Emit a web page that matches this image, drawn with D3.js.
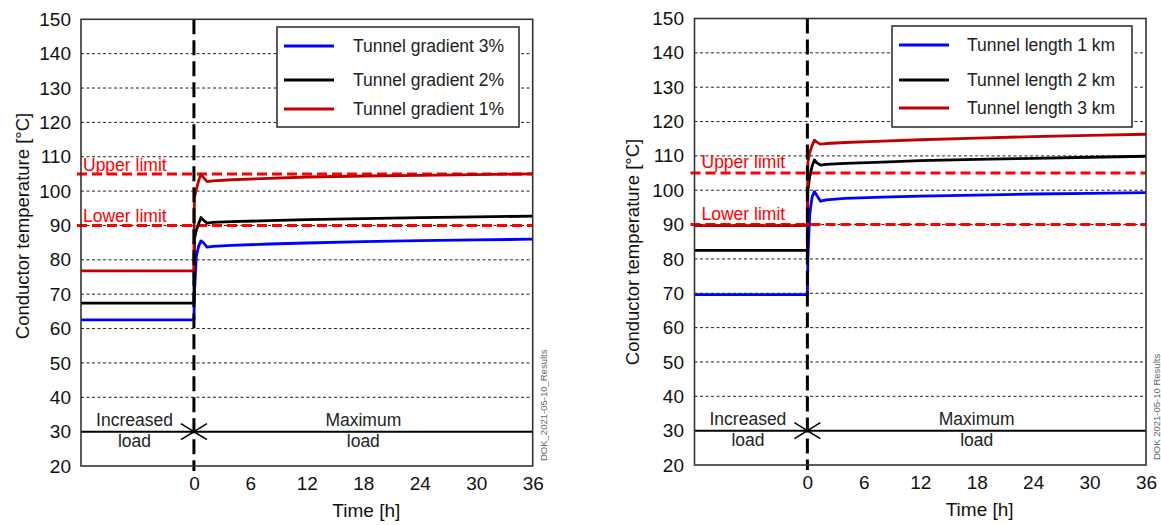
<!DOCTYPE html>
<html>
<head>
<meta charset="utf-8">
<script src="https://cdn.jsdelivr.net/npm/d3@7/dist/d3.min.js"></script>
<style>
  html, body { margin: 0; padding: 0; background: #fff; }
  svg { display: block; font-family: "Liberation Sans", Arial, sans-serif; }
</style>
</head>
<body>
<svg id="chart" width="1161" height="525"></svg>
<script>
// ---------- data ----------
const timeTicks = [0, 6, 12, 18, 24, 30, 36];
const tempTicks = [20, 30, 40, 50, 60, 70, 80, 90, 100, 110, 120, 130, 140, 150];
const gridTemps = [40, 50, 60, 70, 80, 90, 100, 110, 120, 130, 140];
const timeDomain = [-12, 36];
const tempDomain = [20, 150];
const upperLimit = 105;
const lowerLimit = 90;
const phaseLine = 30;

const times = [-12, 0, 0.05, 0.25, 0.5, 0.75, 1.0, 1.4, 2, 4, 8, 12, 18, 24, 30, 36];

// left chart: tunnel gradient
const gradientLabels = ["Tunnel gradient 3%", "Tunnel gradient 2%", "Tunnel gradient 1%"];
const gradient3 = [62.5, 62.5, 70, 81, 84, 85.5, 85, 83.7, 83.9, 84.2, 84.6, 84.9, 85.3, 85.6, 85.8, 86.0];
const gradient2 = [67.4, 67.4, 86, 88.5, 90.5, 92.3, 91.6, 90.7, 90.9, 91.1, 91.4, 91.7, 92.0, 92.3, 92.5, 92.7];
const gradient1 = [76.8, 76.8, 98, 100.4, 103, 104.9, 104, 102.8, 103.0, 103.3, 103.7, 104.1, 104.4, 104.6, 104.8, 105.0];

// right chart: tunnel length
const lengthLabels = ["Tunnel length 1 km", "Tunnel length 2 km", "Tunnel length 3 km"];
const length1 = [69.6, 69.6, 80, 93, 98, 99.6, 98.5, 96.8, 97.2, 97.6, 98.0, 98.3, 98.6, 98.9, 99.1, 99.3];
const length2 = [82.5, 82.5, 100, 104, 107, 108.8, 108, 107.3, 107.5, 107.8, 108.2, 108.6, 109.0, 109.3, 109.6, 109.9];
const length3 = [89.7, 89.7, 108, 111, 113, 114.6, 114, 113.4, 113.6, 113.9, 114.3, 114.7, 115.2, 115.6, 116.0, 116.3];

const seriesColors = ["#0000ff", "#000000", "#c00000"];

// ---------- drawing ----------
const svg = d3.select("#chart");
const FONT = "\"Liberation Sans\", Arial, sans-serif";

function drawChart(cfg) {
  const g = svg.append("g");
  const x = d3.scaleLinear().domain(timeDomain).range([cfg.left, cfg.right]);
  const y = d3.scaleLinear().domain(tempDomain).range([cfg.bottom, cfg.top]);

  // grid lines
  g.selectAll(".grid").data(gridTemps).enter().append("line")
    .attr("x1", cfg.left).attr("x2", cfg.right)
    .attr("y1", d => y(d)).attr("y2", d => y(d))
    .attr("stroke", "#222").attr("stroke-width", 1)
    .attr("stroke-dasharray", "3,2.5");

  // solid phase line at 30
  g.append("line")
    .attr("x1", cfg.left).attr("x2", cfg.right)
    .attr("y1", y(phaseLine)).attr("y2", y(phaseLine))
    .attr("stroke", "#000").attr("stroke-width", 2);

  // arrow heads at 0
  const x0 = x(0), y30 = y(phaseLine);
  g.append("path")
    .attr("d", `M${x0 - 13},${y30 - 8}L${x0},${y30}L${x0 - 13},${y30 + 8}M${x0 + 13},${y30 - 8}L${x0},${y30}L${x0 + 13},${y30 + 8}`)
    .attr("fill", "none").attr("stroke", "#000").attr("stroke-width", 1.6);

  // phase labels
  const phaseText = [
    { t: "Increased", cx: (x(timeDomain[0]) + x(0)) / 2 - 3, dy: -5.5 },
    { t: "load", cx: (x(timeDomain[0]) + x(0)) / 2 - 3, dy: 15.5 },
    { t: "Maximum", cx: (x(0) + x(36)) / 2, dy: -5.5 },
    { t: "load", cx: (x(0) + x(36)) / 2, dy: 15.5 }
  ];
  g.selectAll(".phase").data(phaseText).enter().append("text")
    .attr("x", d => d.cx).attr("y", d => y30 + d.dy)
    .attr("text-anchor", "middle").attr("font-size", 17.5).attr("fill", "#222")
    .text(d => d.t);

  // limit lines
  [upperLimit, lowerLimit].forEach(v => {
    g.append("line")
      .attr("x1", cfg.left - 4).attr("x2", cfg.right)
      .attr("y1", y(v)).attr("y2", y(v))
      .attr("stroke", "#ff0000").attr("stroke-width", 3)
      .attr("stroke-dasharray", "10,5");
  });
  g.append("text").attr("x", cfg.left + cfg.limitX).attr("y", y(upperLimit) - cfg.limitOff)
    .attr("font-size", 17.5).attr("fill", "#ff0000").text("Upper limit");
  g.append("text").attr("x", cfg.left + cfg.limitX).attr("y", y(lowerLimit) - cfg.limitOff)
    .attr("font-size", 17.5).attr("fill", "#ff0000").text("Lower limit");

  // series
  const line = d3.line().x((d, i) => x(times[i])).y(d => y(d));
  cfg.series.forEach((s, i) => {
    g.append("path").datum(s)
      .attr("d", line)
      .attr("fill", "none").attr("stroke", seriesColors[i])
      .attr("stroke-width", 2.8).attr("stroke-linejoin", "round");
  });

  // vertical dashed line at 0
  g.append("line")
    .attr("x1", x0).attr("x2", x0)
    .attr("y1", cfg.top).attr("y2", cfg.bottom + 5)
    .attr("stroke", "#000").attr("stroke-width", 3)
    .attr("stroke-dasharray", "15,6");

  // frame
  g.append("rect")
    .attr("x", cfg.left).attr("y", cfg.top)
    .attr("width", cfg.right - cfg.left).attr("height", cfg.bottom - cfg.top)
    .attr("fill", "none").attr("stroke", "#333").attr("stroke-width", 1.6);

  // y axis labels
  const yAxis = d3.axisLeft(y).tickValues(tempTicks).tickSize(0).tickPadding(0);
  const ya = g.append("g").attr("transform", `translate(${cfg.tickX},0)`).call(yAxis);
  ya.select(".domain").remove();
  ya.selectAll("text").attr("font-size", 19).attr("font-family", FONT).attr("fill", "#111");

  // x axis labels
  const xAxis = d3.axisBottom(x).tickValues(timeTicks).tickSize(0).tickPadding(0);
  const xa = g.append("g").attr("transform", `translate(0,${cfg.bottom + 10})`).call(xAxis);
  xa.select(".domain").remove();
  xa.selectAll("text").attr("font-size", 19).attr("font-family", FONT).attr("fill", "#111");

  // axis titles
  g.append("text")
    .attr("transform", `translate(${cfg.titleX},${cfg.titleY}) rotate(-90)`)
    .attr("text-anchor", "middle").attr("font-size", 18.5).attr("fill", "#111")
    .text("Conductor temperature [°C]");
  g.append("text")
    .attr("x", (x(0) + x(36)) / 2 + 3).attr("y", cfg.bottom + 51)
    .attr("text-anchor", "middle").attr("font-size", 19).attr("fill", "#111")
    .text("Time [h]");

  // legend
  const L = cfg.legend;
  g.append("rect").attr("x", L.x).attr("y", L.y).attr("width", L.w).attr("height", L.h)
    .attr("fill", "#fff").attr("stroke", "#333").attr("stroke-width", 1.6);
  cfg.labels.forEach((lab, i) => {
    const ry = L.rows[i];
    g.append("line").attr("x1", L.x + 7).attr("x2", L.x + 57)
      .attr("y1", ry).attr("y2", ry)
      .attr("stroke", seriesColors[i]).attr("stroke-width", 3);
    g.append("text").attr("x", L.tx).attr("y", ry + 6)
      .attr("font-size", 17.5).attr("fill", "#222").text(lab);
  });

  // watermark
  g.append("text")
    .attr("transform", `translate(${cfg.wmX},${cfg.bottom - 5}) rotate(-90)`)
    .attr("font-size", 9.5).attr("fill", "#666")
    .text(cfg.wm);
}

drawChart({
  left: 81, right: 532.7, top: 19.3, bottom: 466,
  tickX: 71, titleX: 29, titleY: 226, limitOff: 3, limitX: 2,
  series: [gradient3, gradient2, gradient1], labels: gradientLabels,
  legend: { x: 277, y: 27, w: 242, h: 100, rows: [46, 80, 109], tx: 353 },
  wmX: 547, wm: "DOK_2021-05-10_Results"
});

drawChart({
  left: 694.5, right: 1146, top: 18.5, bottom: 465,
  tickX: 684, titleX: 639, titleY: 252, limitOff: 5, limitX: 7,
  series: [length1, length2, length3], labels: lengthLabels,
  legend: { x: 892, y: 26, w: 240, h: 101, rows: [45, 80, 108], tx: 967 },
  wmX: 1160, wm: "DOK  2021-05-10  Results"
});
</script>
</body>
</html>
